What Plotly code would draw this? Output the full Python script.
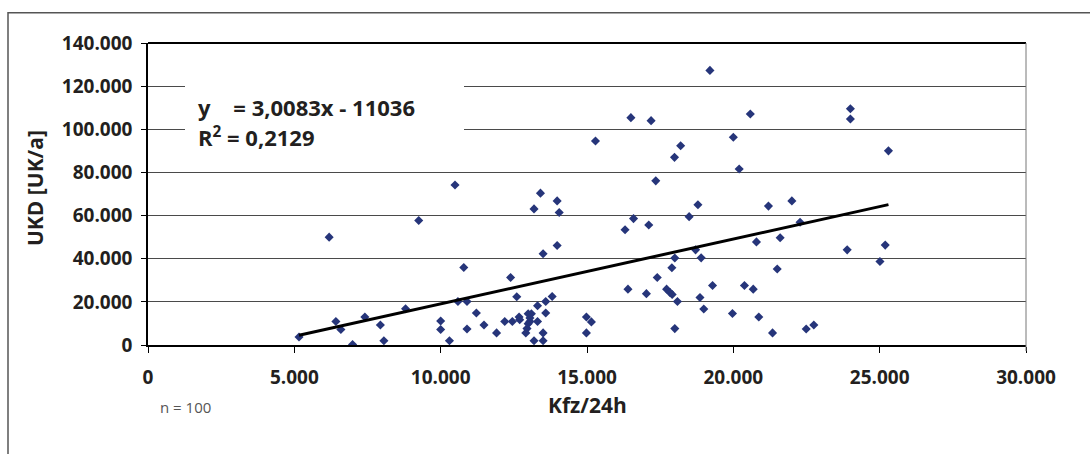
import plotly.graph_objects as go

# Verkehrsstärke (Kfz/24h) und Unfallkostendichte (UK/a) je Abschnitt
kfz = [5160, 6190, 6420, 6590, 6990, 7410, 7940, 8060, 8800, 9250,
       10000, 10000, 10300, 10490, 10590, 10900, 10790, 10900, 11220, 11480,
       11910, 12390, 12190, 12450, 12600, 12680, 12700, 12910, 12950, 12990,
       12990, 13100, 13050, 13190, 13190, 13310, 13310, 13410, 13500, 13500,
       13500, 13590, 13590, 13810, 13980, 14050, 13980, 14980, 14980, 15150,
       15290, 16300, 16400, 16500, 16590, 17030, 17110, 17190, 17350, 17400,
       17720, 17830, 17910, 17900, 18000, 17990, 18000, 18090, 18200, 18490,
       18710, 18790, 18900, 18860, 18990, 19200, 19290, 19970, 20000, 20200,
       20380, 20580, 20680, 20790, 20870, 21200, 21340, 21500, 21600, 22000,
       22280, 22490, 22750, 23890, 24000, 24000, 25010, 25190, 25300, 13050]
ukd = [3700, 50000, 10900, 7200, 200, 13000, 9300, 2000, 16800, 57700,
       11100, 7200, 2000, 74200, 20200, 20200, 35900, 7400, 14800, 9300,
       5600, 31300, 10900, 10900, 22400, 13000, 11700, 5600, 7600, 9900,
       14500, 14500, 10900, 63100, 2000, 10900, 18200, 70400, 42300, 5600,
       2000, 20200, 14800, 22500, 66800, 61400, 46100, 5600, 13000, 10700,
       94600, 53400, 25900, 105400, 58600, 23800, 55600, 104000, 76100, 31300,
       25900, 24400, 23400, 35800, 40300, 87000, 7600, 20200, 92400, 59500,
       44100, 65000, 40400, 22000, 16700, 127300, 27600, 14600, 96300, 81600,
       27600, 107100, 25900, 47800, 13000, 64400, 5600, 35200, 49700, 66800,
       56900, 7400, 9300, 44100, 109500, 104800, 38700, 46300, 90000, 12500]

# Lineare Regression laut Diagramm
slope = 3.0083
intercept = -11036
r_squared = 0.2129

x_ticks = [0, 5000, 10000, 15000, 20000, 25000, 30000]
y_ticks = [0, 20000, 40000, 60000, 80000, 100000, 120000, 140000]

trend_x = [min(kfz), max(kfz)]
trend_y = [slope * v + intercept for v in trend_x]


def de_num(v, digits):
    return f"{v:.{digits}f}".replace(".", ",")


eq_text = f"y&nbsp;&nbsp;&nbsp; = {de_num(slope, 4)}x - {abs(intercept)}"
r2_text = f"R<sup>2</sup> = {de_num(r_squared, 4)}"

FONT = "Open Sans"
INK = "#231f20"

# Pixel layout of the plot area inside the 1090x454 page
W, H = 1090, 454
L, R, T, B = 148, 1026, 43, 345


def px(xp):
    return (xp - L) / (R - L)


def py(yp):
    return (B - yp) / (B - T)


fig = go.Figure()

fig.add_trace(go.Scatter(
    x=kfz, y=ukd, mode="markers",
    marker=dict(symbol="diamond", size=7, color="#26357a", line=dict(width=0)),
    showlegend=False, hoverinfo="skip",
))

fig.add_trace(go.Scatter(
    x=trend_x, y=trend_y, mode="lines",
    line=dict(color="black", width=3),
    showlegend=False, hoverinfo="skip",
))

shapes = [
    # outer chart frame
    dict(type="rect", xref="paper", yref="paper",
         x0=px(8), x1=px(W + 20), y0=py(H + 20), y1=py(12.7),
         line=dict(color="#555555", width=1.5), fillcolor="rgba(0,0,0,0)",
         layer="below"),
    # top edge of plot area
    dict(type="line", xref="paper", yref="paper", x0=0, x1=1, y0=1, y1=1,
         line=dict(color="black", width=2), layer="above"),
    # right edge of plot area
    dict(type="line", xref="paper", yref="paper", x0=1, x1=1, y0=py(B + 6), y1=1,
         line=dict(color="#777777", width=1), layer="above"),
    # white box behind the regression label
    dict(type="rect", xref="paper", yref="paper",
         x0=px(185), x1=px(464), y0=py(158), y1=py(60),
         line=dict(width=0), fillcolor="white", layer="above"),
]

annotations = [
    dict(text=eq_text,
         xref="paper", yref="paper", x=px(196), y=py(106.7),
         xanchor="left", yanchor="middle", showarrow=False,
         font=dict(family=FONT, size=22, color=INK, weight="bold")),
    dict(text=r2_text,
         xref="paper", yref="paper", x=px(196), y=py(136),
         xanchor="left", yanchor="middle", showarrow=False,
         font=dict(family=FONT, size=22, color=INK, weight="bold")),
    dict(text="UKD [UK/a]", xref="paper", yref="paper", x=px(35), y=py(188),
         xanchor="center", yanchor="middle", textangle=-90, showarrow=False,
         font=dict(family=FONT, size=21, color=INK, weight="bold")),
    dict(text="Kfz/24h", xref="paper", yref="paper", x=px(587), y=py(405),
         xanchor="center", yanchor="middle", showarrow=False,
         font=dict(family=FONT, size=21, color=INK, weight="bold")),
    dict(text="n = 100", xref="paper", yref="paper", x=px(185), y=py(407),
         xanchor="center", yanchor="middle", showarrow=False,
         font=dict(family=FONT, size=15, color="#555555")),
]

fig.update_layout(
    width=W, height=H,
    margin=dict(l=L, r=W - R, t=T, b=H - B, pad=0),
    paper_bgcolor="white", plot_bgcolor="white",
    separators=",.",
    shapes=shapes, annotations=annotations,
    showlegend=False,
)

fig.update_xaxes(
    range=[0, 30000], tickvals=x_ticks, tickformat=",d",
    showgrid=False, zeroline=False,
    showline=True, linecolor="black", linewidth=1.5,
    ticks="outside", ticklen=6, tickcolor="black", tickwidth=1,
    ticklabelstandoff=8,
    tickfont=dict(family=FONT, size=19, color=INK, weight="bold"),
)
fig.update_yaxes(
    range=[0, 140000], tickvals=y_ticks, tickformat=",d",
    showgrid=True, gridcolor="#4a4a4a", gridwidth=1, zeroline=False,
    showline=True, linecolor="black", linewidth=1.5,
    ticks="outside", ticklen=5, tickcolor="black", tickwidth=1,
    ticklabelstandoff=5,
    tickfont=dict(family=FONT, size=19, color=INK, weight="bold"),
)

fig.write_html("out.html")
